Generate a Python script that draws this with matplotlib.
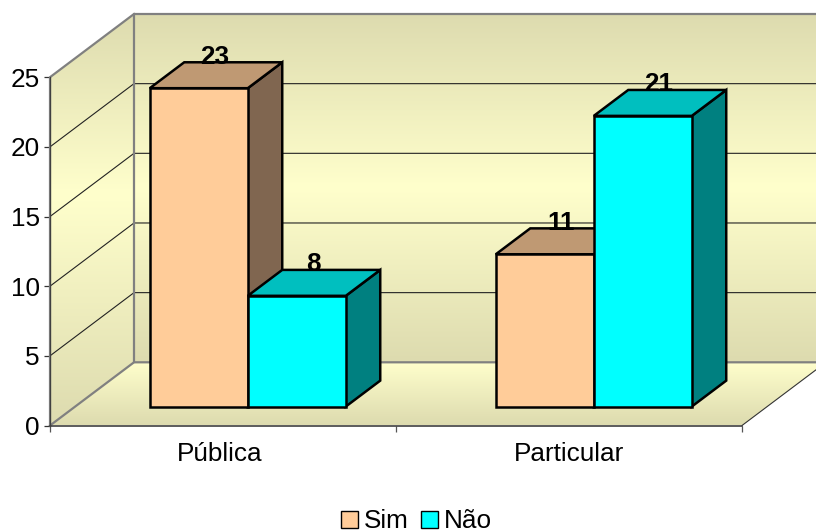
import matplotlib
matplotlib.use("Agg")
import matplotlib.pyplot as plt
import numpy as np
from matplotlib.colors import LinearSegmentedColormap
from matplotlib.patches import Polygon, Patch

plt.rcParams['font.family'] = ['Liberation Sans', 'DejaVu Sans']

# ---- data ----
categories = ["Pública", "Particular"]
series_names = ["Sim", "Não"]
sim_values = [23, 11]
nao_values = [8, 21]
y_ticks = [0, 5, 10, 15, 20, 25]

# ---- colours ----
front_colors = ["#FFCC99", "#00FFFF"]
top_colors = ["#BF9973", "#00BFBF"]
side_colors = ["#806650", "#008080"]
WALL_DARK, WALL_LIGHT = "#DDDBAF", "#FFFFCC"
FS = 18.8

W, H = 816, 532
fig = plt.figure(figsize=(W / 100, H / 100), dpi=100, facecolor="white")
AX_L, AX_R, AX_B, AX_T = 50, 742, 425.5, 77.2
ax = fig.add_axes([AX_L / W, 1 - AX_B / H, (AX_R - AX_L) / W, (AX_B - AX_T) / H])
ax.patch.set_visible(False)

# oblique projection: depth 0 (front) to 1 (back wall)
PX_PER_CAT = (AX_R - AX_L) / 2
PX_PER_VAL = (AX_B - AX_T) / 25
DX = 84 / PX_PER_CAT
DY = 63.2 / PX_PER_VAL


def proj(x, v, d=0.0):
    return (x + d * DX, v + d * DY)


def gradient(pts, stops, v0, v1, z):
    """Vertical gradient clipped to a polygon given in data coordinates."""
    cmap = LinearSegmentedColormap.from_list("g", stops)
    g = np.linspace(0, 1, 256).reshape(-1, 1)
    im = ax.imshow(g, cmap=cmap, origin="lower", aspect="auto", vmin=0, vmax=1,
                   extent=(-0.5, 3.0, v0, v1), zorder=z, interpolation="bilinear")
    poly = Polygon(pts, closed=True, transform=ax.transData, fc="none", ec="none")
    im.set_clip_box(fig.bbox)
    im.set_clip_path(poly)


X0, X1, V0, V1 = 0, 2, 0, 25
wall_stops = [(0, WALL_DARK), (0.5, WALL_LIGHT), (1, WALL_DARK)]
gradient([proj(X0, V0, 1), proj(X1, V0, 1), proj(X1, V1, 1), proj(X0, V1, 1)],
         wall_stops, DY, 25 + DY, 1)
gradient([proj(X0, V0, 0), proj(X0, V0, 1), proj(X0, V1, 1), proj(X0, V1, 0)],
         [(0, WALL_DARK), (0.56, WALL_LIGHT), (1, WALL_DARK)], 0, 25 + DY, 1)
gradient([proj(X0, V0, 0), proj(X1, V0, 0), proj(X1, V0, 1), proj(X0, V0, 1)],
         [(0, WALL_DARK), (1, WALL_LIGHT)], 0, DY, 1)

# gridlines on side wall and back wall
for t in y_ticks[1:-1]:
    a, b, c = proj(X0, t, 0), proj(X0, t, 1), proj(X1, t, 1)
    ax.plot([a[0], b[0], c[0]], [a[1], b[1], c[1]], color="#222222", lw=0.8,
            zorder=2, clip_on=False, solid_joinstyle="miter")

# wall borders
GRAY = "#808080"
edges = [
    [proj(X0, V0, 0), proj(X0, V0, 1), proj(X1, V0, 1)],
    [proj(X0, V0, 1), proj(X0, V1, 1), proj(X1, V1, 1)],
    [proj(X0, V1, 1), proj(X0, V1, 0), proj(X0, V0, 0)],
]
for e in edges:
    xs, ys = zip(*e)
    ax.plot(xs, ys, color=GRAY, lw=1.6, zorder=2.5, clip_on=False)
a, b = proj(X1, V0, 0), proj(X1, V0, 1)
ax.plot([a[0], b[0]], [a[1], b[1]], color="#333333", lw=0.8, zorder=2.5, clip_on=False)

# 3-D bars
BAR_W = (98 / PX_PER_CAT)
GROUP_GAP = (1 - 2 * BAR_W) / 2 - 0.4 / PX_PER_CAT
D0, D1 = 0.30, 0.71
BAR_SCALE = 0.9935
EDGE = dict(edgecolor="black", linewidth=1.8, joinstyle="miter", clip_on=False)
series = [sim_values, nao_values]
for s, vals in enumerate(series):
    for c, val in enumerate(vals):
        x0 = c + GROUP_GAP + s * BAR_W
        x1 = x0 + BAR_W
        v = val * BAR_SCALE
        z = 3 + c * 2 + s
        ax.add_patch(Polygon([proj(x1, 0, D0), proj(x1, 0, D1), proj(x1, v, D1), proj(x1, v, D0)],
                             facecolor=side_colors[s], zorder=z, **EDGE))
        ax.add_patch(Polygon([proj(x0, v, D0), proj(x1, v, D0), proj(x1, v, D1), proj(x0, v, D1)],
                             facecolor=top_colors[s], zorder=z, **EDGE))
        ax.add_patch(Polygon([proj(x0, 0, D0), proj(x1, 0, D0), proj(x1, v, D0), proj(x0, v, D0)],
                             facecolor=front_colors[s], zorder=z, **EDGE))
        lx, _ = proj((x0 + x1) / 2, v, D1 * 0.5 + D0 * 0.5)
        _, ly = proj(x0, v, D1)
        ax.annotate(str(val), (lx, ly), xytext=(-0.8, -1.0), textcoords="offset points",
                    ha="center", va="baseline", fontsize=FS, fontweight="bold",
                    color="black", zorder=20, annotation_clip=False)

ax.set_xlim(X0, X1)
ax.set_ylim(V0, V1)

for sp in ["top", "right"]:
    ax.spines[sp].set_visible(False)
ax.spines["left"].set_color("#404040")
ax.spines["left"].set_linewidth(0.9)
ax.spines["bottom"].set_color("#404040")
ax.spines["bottom"].set_linewidth(1.2)
ax.spines["left"].set_zorder(2.6)
ax.spines["bottom"].set_zorder(2.6)

ax.set_yticks(y_ticks)
ax.tick_params(axis="y", direction="out", length=4.4, width=0.9, color="#333333",
               labelsize=FS, pad=2.8)
ax.set_xticks([0, 1, 2])
ax.set_xticks([0.49, 1.5], minor=True)
ax.set_xticklabels([])
ax.set_xticklabels(categories, minor=True)
ax.tick_params(axis="x", which="major", direction="out", length=4.4, width=0.9, color="#555555")
ax.tick_params(axis="x", which="minor", length=0, labelsize=FS, pad=11.8)

handles = [Patch(facecolor=front_colors[i], edgecolor="black", linewidth=1.0, label=series_names[i])
           for i in range(2)]
fig.legend(handles=handles, ncol=2, frameon=False, fontsize=FS,
           loc="center", bbox_to_anchor=(416.5 / W, 1 - 521.5 / H),
           handlelength=0.64, handleheight=0.64, handletextpad=0.22,
           columnspacing=0.5, borderpad=0, borderaxespad=0)

fig.savefig("out.png", dpi=100)
